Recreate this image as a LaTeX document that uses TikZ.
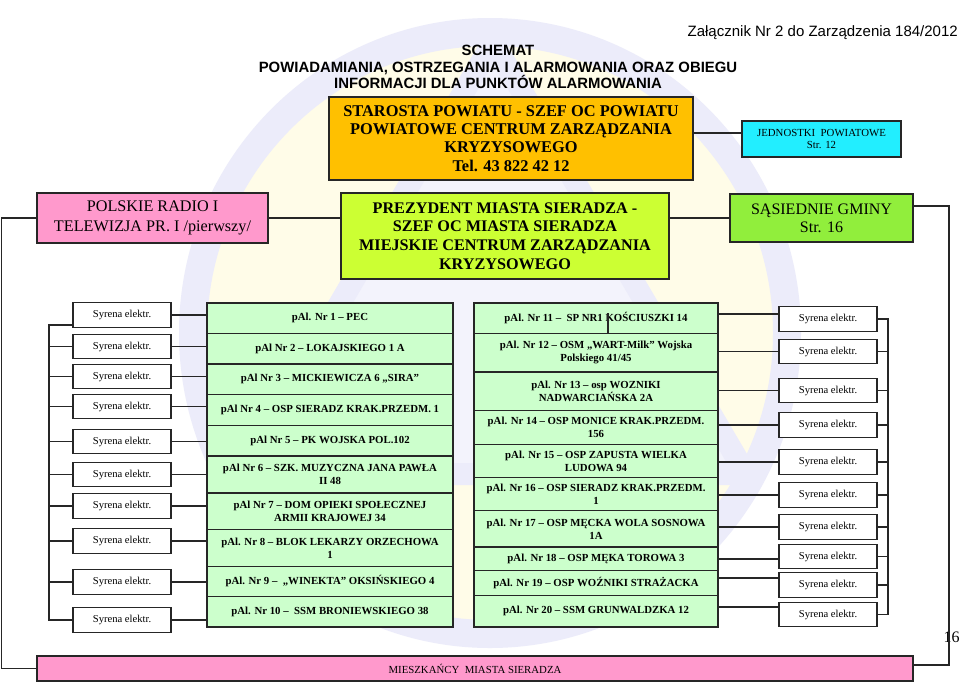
\documentclass[tikz,border=0pt]{standalone}
\usepackage{fontspec}
\setmainfont{Liberation Serif}
\newfontfamily\arialf{Liberation Sans}
\newcommand\fsz[2]{\fontsize{#1}{#2}\selectfont}
\newcommand\mkrow[6]{\node[tabrow,minimum width=#3,minimum height={#5-#4}] (#1) at (#2,{(#4+#5)/2}) {#6};}
\definecolor{linec}{HTML}{262626}
\definecolor{orangeb}{HTML}{FFC000}
\definecolor{prezg}{HTML}{CCFF33}
\definecolor{sasg}{HTML}{91EE3C}
\definecolor{pinkb}{HTML}{FF99CC}
\definecolor{cyanb}{HTML}{22EEFF}
\definecolor{tabg}{HTML}{CCFFCC}
\definecolor{wmyel}{HTML}{FFFCE8}
\definecolor{wmlav}{HTML}{ECECFA}
\definecolor{wmlav2}{HTML}{F3F3FC}
\begin{document}
\begin{tikzpicture}[x=1pt,y=-1pt,
  box/.style={draw=linec,line width=1.4pt,inner sep=0pt,align=center,text=black},
  sir/.style={box,fill=white,minimum width=98,minimum height=24.5,font=\fsz{10.6}{12}},
  tabrow/.style={box,fill=tabg,font=\fsz{10.8}{13}\bfseries},
  conn/.style={draw=linec,line width=1.5pt}]
\useasboundingbox[fill=white] (0,0) rectangle (960,683);

% faint watermark
\fill[wmyel] (490,333) ellipse [x radius=297, y radius=301];
\draw[wmlav,line width=28pt] (490,333) ellipse [x radius=297, y radius=301];
\filldraw[fill=wmlav2,draw=wmlav,line width=22pt,line join=round] (493,42) -- (240,474) -- (746,474) -- cycle;

% titles
\node[align=center,font=\arialf\bfseries\fsz{14.9}{16.5}] (title) at (498,67) {SCHEMAT\\POWIADAMIANIA, OSTRZEGANIA I ALARMOWANIA ORAZ OBIEGU\\INFORMACJI DLA PUNKTÓW ALARMOWANIA};
\node[anchor=east,font=\arialf\fsz{15}{17},inner sep=0pt] (zal) at (958,33) {Załącznik Nr 2 do Zarządzenia 184/2012};

% top boxes
\node[box,fill=orangeb,minimum width=364,minimum height=83,font=\fsz{16.4}{18.3}\bfseries] (staro) at (511,138.5) {STAROSTA POWIATU - SZEF OC POWIATU\\POWIATOWE CENTRUM ZARZĄDZANIA\\KRYZYSOWEGO\\Tel. 43 822 42 12};
\node[box,fill=cyanb,minimum width=159,minimum height=36,font=\fsz{10.8}{12.7}] (jedn) at (821.5,139) {JEDNOSTKI\ \ POWIATOWE\\Str. 12};
\node[box,fill=pinkb,minimum width=231,minimum height=50,font=\fsz{16.2}{19.7}] (radio) at (152.5,218) {POLSKIE RADIO I\\TELEWIZJA PR. I /pierwszy/};
\node[box,fill=prezg,minimum width=328,minimum height=86,font=\fsz{16.2}{18.6}\bfseries] (prez) at (505,236) {PREZYDENT MIASTA SIERADZA -\\SZEF OC MIASTA SIERADZA\\MIEJSKIE CENTRUM ZARZĄDZANIA\\KRYZYSOWEGO};
\node[box,fill=sasg,minimum width=183,minimum height=48,font=\fsz{16}{18.3}] (sas) at (821.5,218) {SĄSIEDNIE GMINY\\Str. 16};
\node[box,fill=pinkb,minimum width=876,minimum height=25,font=\fsz{10.8}{12}] (miesz) at (475,668.5) {MIESZKAŃCY\ \ MIASTA SIERADZA};

% left table
\mkrow{L1}{330}{246}{303}{333.4}{pAl. Nr 1 – PEC}
\mkrow{L2}{330}{246}{333.4}{364.1}{pAl Nr 2 – LOKAJSKIEGO 1 A}
\mkrow{L3}{330}{246}{364.1}{394.5}{pAl Nr 3 – MICKIEWICZA 6 „SIRA”}
\mkrow{L4}{330}{246}{394.5}{425.2}{pAl Nr 4 – OSP SIERADZ KRAK.PRZEDM. 1}
\mkrow{L5}{330}{246}{425.2}{456}{pAl Nr 5 – PK WOJSKA POL.102}
\mkrow{L6}{330}{246}{456}{493}{pAl Nr 6 – SZK. MUZYCZNA JANA PAWŁA\\II 48}
\mkrow{L7}{330}{246}{493}{529.7}{pAl Nr 7 – DOM OPIEKI SPOŁECZNEJ\\ARMII KRAJOWEJ 34}
\mkrow{L8}{330}{246}{529.7}{566.5}{pAl. Nr 8 – BLOK LEKARZY ORZECHOWA\\1}
\mkrow{L9}{330}{246}{566.5}{596.5}{pAl. Nr 9 – \ „WINEKTA” OKSIŃSKIEGO 4}
\mkrow{L10}{330}{246}{596.5}{627}{pAl. Nr 10 – \ SSM BRONIEWSKIEGO 38}

% right table
\mkrow{R1}{596}{244}{303}{333.4}{pAl. Nr 11 – \ SP NR1 KOŚCIUSZKI 14}
\mkrow{R2}{596}{244}{333.4}{371.8}{pAl. Nr 12 – OSM „WART-Milk” Wojska\\Polskiego 41/45}
\mkrow{R3}{596}{244}{371.8}{410.2}{pAl. Nr 13 – osp WOZNIKI\\NADWARCIAŃSKA 2A}
\mkrow{R4}{596}{244}{410.2}{444.6}{pAl. Nr 14 – OSP MONICE KRAK.PRZEDM.\\156}
\mkrow{R5}{596}{244}{444.6}{477.6}{pAl. Nr 15 – OSP ZAPUSTA WIELKA\\LUDOWA 94}
\mkrow{R6}{596}{244}{477.6}{510.4}{pAl. Nr 16 – OSP SIERADZ KRAK.PRZEDM.\\1}
\mkrow{R7}{596}{244}{510.4}{547.1}{pAl. Nr 17 – OSP MĘCKA WOLA SOSNOWA\\1A}
\mkrow{R8}{596}{244}{547.1}{570.5}{pAl. Nr 18 – OSP MĘKA TOROWA 3}
\mkrow{R9}{596}{244}{570.5}{595.5}{pAl. Nr 19 – OSP WOŹNIKI STRAŻACKA}
\mkrow{R10}{596}{244}{595.5}{627}{pAl. Nr 20 – SSM GRUNWALDZKA 12}

% sirens
\foreach \i/\y in {1/315,2/346.5,3/376.5,4/406.5,5/441.5,6/474.5,7/506,8/541,9/582,10/620}
  \node[sir] (SL\i) at (122,\y) {Syrena elektr.};
\foreach \i/\y in {1/319,2/351.5,3/390.5,4/425,5/462,6/495,7/527,8/556.5,9/585,10/614.5}
  \node[sir] (SR\i) at (828,\y) {Syrena elektr.};

% page number
\node[font=\fsz{16}{18},inner sep=0pt] (pnum) at (951.5,637) {16};

% connectors: top
\path ([yshift=5.5pt]staro.east) coordinate (sj);
\draw[conn] (sj) -- (sj -| jedn.west);
\draw[conn] (radio.east) -- (radio.east -| prez.west);
\draw[conn] (sas.west -| prez.east) -- (sas.west);
\coordinate (lft) at (1.5,0);
\draw[conn] (radio.west) -| (lft |- miesz.west) -- (miesz.west);
\coordinate (rgt) at (949,0);
\path ([yshift=12pt]sas.east) coordinate (st);
\path ([yshift=3.5pt]miesz.east) coordinate (mr);
\draw[conn] (st) -| (mr -| rgt) -- (mr);

% connectors: left sirens
\foreach \i in {1,...,10}
  \draw[conn] (SL\i.east) -- (SL\i.east -| L\i.west);
\coordinate (lbr) at (49,0);
\path ([yshift=-10pt]SL1.west) coordinate (sl1);
\draw[conn] (sl1) -| (lbr |- SL10.west) -- (SL10.west);
\foreach \i in {2,...,9}
  \draw[conn] (SL\i.west) -- (SL\i.west -| lbr);

% connectors: right sirens
\foreach \i/\s in {1/5,2/0,3/0,4/0,5/0,6/0,7/0,8/-2.5,9/7,10/7.5}{
  \path ([yshift=\s pt]SR\i.west) coordinate (cr\i);
  \draw[conn] (cr\i -| R\i.east) -- (cr\i);
}
\coordinate (rbr) at (888,0);
\draw[conn] (SR1.east) -| (rbr |- SR10.east) -- (SR10.east);
\foreach \i in {2,...,9}
  \draw[conn] (SR\i.east) -- (SR\i.east -| rbr);

% stray mark in row 11
\coordinate (stray) at (608,313);
\draw[conn] (stray) -- (stray |- R1.south);
\end{tikzpicture}
\end{document}
